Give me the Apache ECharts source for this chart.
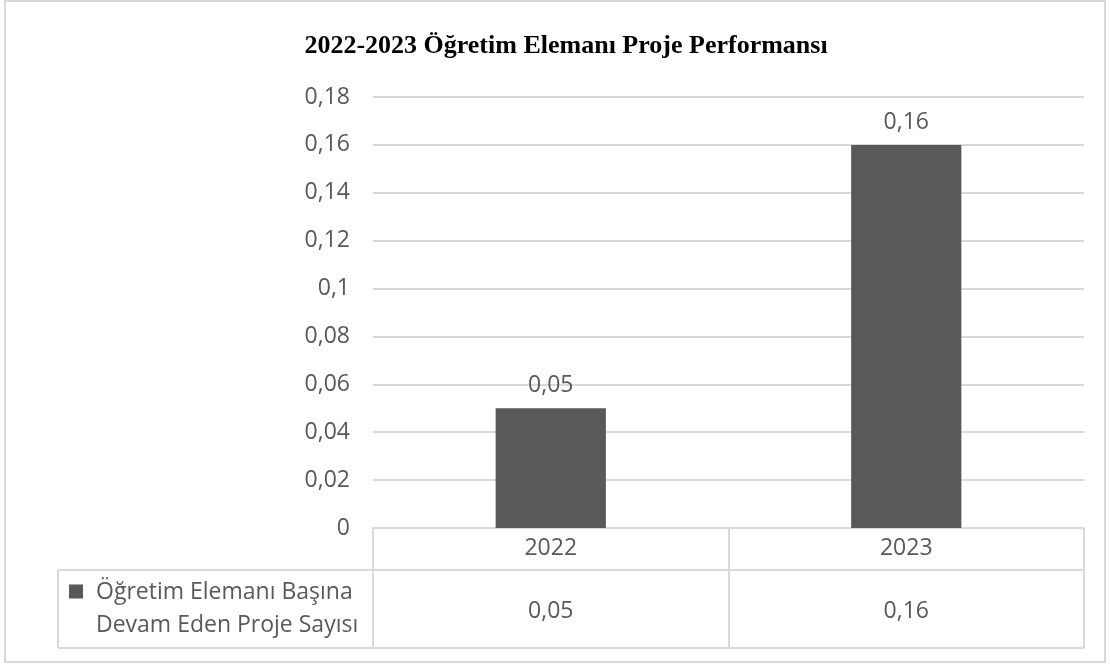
<!DOCTYPE html>
<html>
<head>
<meta charset="utf-8">
<script src="https://cdn.jsdelivr.net/npm/echarts@6/dist/echarts.min.js"></script>
<style>html,body{margin:0;padding:0;background:#fff}#c{width:1110px;height:666px}</style>
</head>
<body>
<div id="c"></div>
<script>
const titleText = '2022-2023 Öğretim Elemanı Proje Performansı';
const categories = ['2022', '2023'];
const seriesName = 'Öğretim Elemanı Başına\nDevam Eden Proje Sayısı';
const values = [0.05, 0.16];
const yMin = 0, yMax = 0.18, yStep = 0.02;

const fmt = v => String(Math.round(v * 1000) / 1000).replace('.', ',');
const GRAY = '#595959', LINE = '#d9d9d9';
const LBL = { fontFamily: 'Open Sans', fontSize: 23, color: GRAY };

const chart = echarts.init(document.getElementById('c'));
chart.setOption({
  animation: false,
  backgroundColor: '#fff',
  title: {
    text: titleText, left: 561, textAlign: 'center', top: 28,
    textStyle: { fontFamily: 'Liberation Serif', fontWeight: 'bold', fontSize: 26, color: '#000' }
  },
  legend: {
    left: 64, top: 571,
    icon: 'path://M0,0H14V14H0Z M0,49H0.01V49.01H0Z',
    itemWidth: 14, itemHeight: 49, selectedMode: false,
    textStyle: Object.assign({}, LBL, { lineHeight: 33, padding: [0, 0, 0, 8] })
  },
  grid: { left: 373, right: 26, top: 97, bottom: 138, containLabel: false },
  xAxis: [
    {
      type: 'category', data: categories, position: 'bottom',
      axisLine: { show: true, lineStyle: { color: LINE, width: 2 } },
      axisTick: { show: true, length: 120, alignWithLabel: false, lineStyle: { color: LINE, width: 2 } },
      axisLabel: Object.assign({ margin: 9 }, LBL)
    },
    {
      type: 'category', data: categories, position: 'bottom', offset: 42,
      axisLine: { show: true, lineStyle: { color: LINE, width: 2 } },
      axisTick: { show: false },
      axisLabel: Object.assign({ margin: 30, formatter: (v, i) => fmt(values[i]) }, LBL)
    },
    {
      type: 'category', data: categories, position: 'bottom', offset: 120,
      axisLine: { show: true, lineStyle: { color: LINE, width: 2 } },
      axisTick: { show: false }, axisLabel: { show: false }
    }
  ],
  yAxis: {
    type: 'value', min: yMin, max: yMax, interval: yStep,
    axisLine: { show: false }, axisTick: { show: false },
    splitLine: { lineStyle: { color: LINE, width: 2 } },
    axisLabel: Object.assign({ margin: 23, formatter: fmt }, LBL)
  },
  series: [{
    type: 'bar', name: seriesName, data: values, barWidth: '31%',
    itemStyle: { color: GRAY },
    label: Object.assign({ show: true, position: 'top', distance: 11, formatter: p => fmt(p.value) }, LBL)
  }],
  graphic: [
    { type: 'rect', shape: { x: 5, y: 1, width: 1100, height: 661 }, style: { fill: 'none', stroke: LINE, lineWidth: 2 }, silent: true },
    { type: 'line', shape: { x1: 58, y1: 570, x2: 373, y2: 570 }, style: { stroke: LINE, lineWidth: 2 }, silent: true },
    { type: 'line', shape: { x1: 58, y1: 648, x2: 373, y2: 648 }, style: { stroke: LINE, lineWidth: 2 }, silent: true },
    { type: 'line', shape: { x1: 58, y1: 570, x2: 58, y2: 648 }, style: { stroke: LINE, lineWidth: 2 }, silent: true }
  ]
});
</script>
</body>
</html>
